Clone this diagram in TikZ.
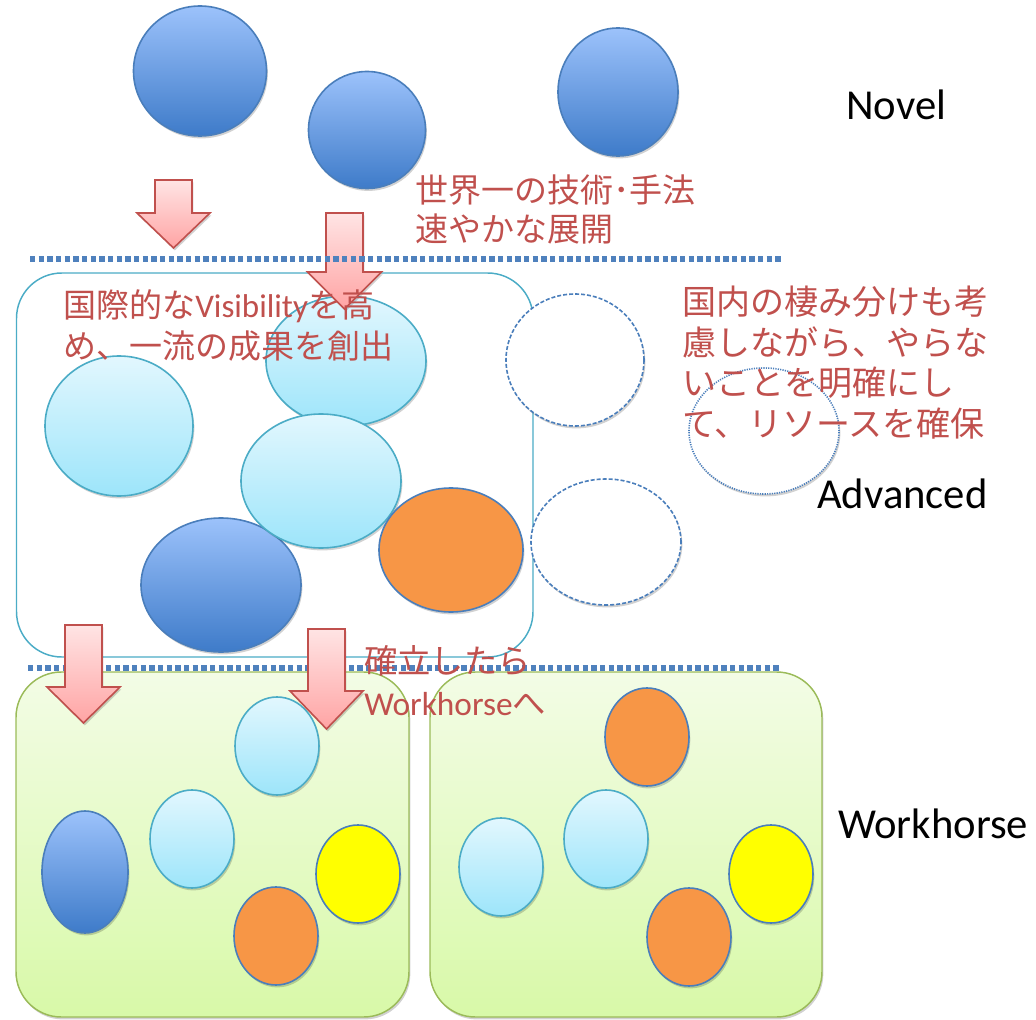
\documentclass[tikz,border=0pt]{standalone}
\usepackage{fontspec}
\setmainfont{Carlito}
\newfontfamily\jp{Noto Sans CJK JP}
\newfontfamily\lat{Carlito}
\usetikzlibrary{shapes.geometric,shadows}
\definecolor{dkTop}{HTML}{9CC2FB}
\definecolor{dkBot}{HTML}{3E7BC9}
\definecolor{ballLine}{HTML}{4A7EBB}
\definecolor{ltTop}{HTML}{E2F7FE}
\definecolor{ltBot}{HTML}{9DE5FA}
\definecolor{ltLine}{HTML}{4BACC6}
\definecolor{orangeF}{HTML}{F79646}
\definecolor{yellowF}{HTML}{FFFF00}
\definecolor{grTop}{HTML}{F3FCE6}
\definecolor{grBot}{HTML}{D8F9A8}
\definecolor{grLine}{HTML}{9BBB59}
\definecolor{arTop}{HTML}{FFE4E4}
\definecolor{arBot}{HTML}{FFA4A4}
\definecolor{arLine}{HTML}{C0504D}
\definecolor{txtRed}{HTML}{C0504D}
\definecolor{sepBlue}{HTML}{4F81BD}
\newcommand\blockarrowdraw[6]{%
  \draw[redarrow] (#1-#2,#4) -- (#1+#2,#4) -- (#1+#2,#5) -- (#1+#3,#5) -- (#1,#6)
    -- (#1-#3,#5) -- (#1-#2,#5) -- cycle;}
\tikzset{
  shad/.style={drop shadow={shadow xshift=1pt,shadow yshift=-1.8pt,opacity=0.18,fill=black}},
  el/.style 2 args={ellipse, inner sep=0pt, minimum width=#1*1.5pt, minimum height=#2*1.5pt, line width=1.2pt},
  darkball/.style={draw=ballLine, top color=dkTop, bottom color=dkBot, shad},
  lightball/.style={draw=ltLine, top color=ltTop, bottom color=ltBot, shad},
  orangeball/.style={draw=ballLine, fill=orangeF, shad},
  yellowball/.style={draw=ballLine, fill=yellowF, shad},
  dashball/.style={draw=ballLine, fill=white, dash pattern=on 3pt off 1.5pt, shad},
  dotball/.style={draw=ballLine, fill=white, dash pattern=on 0.9pt off 0.9pt, shad},
  redarrow/.style={draw=arLine, line width=1.2pt, top color=arTop, bottom color=arBot, shad},
  sepline/.style={draw=sepBlue, line width=3.9pt, dash pattern=on 3.9pt off 2.6pt},
  advbox/.style={draw=ltLine, line width=1.1pt, fill=white, rounded corners=34pt},
  wbox/.style={draw=grLine, line width=1.1pt, top color=grTop, bottom color=grBot, rounded corners=34pt, shad},
  redtxt/.style={text=txtRed, align=left, inner sep=0pt, anchor=west},
  lbl/.style={text=black, inner sep=0pt, anchor=base west, font=\fontsize{32pt}{38pt}\selectfont},
}
\begin{document}
\begin{tikzpicture}[x=0.75pt,y=-0.75pt]
\useasboundingbox (0,0) rectangle (1036,1020);
% Novel level
\node[el={66.5}{65}, darkball] (c1) at (200,71) {};
\node[el={58.5}{58.5}, darkball] (c2) at (367,130) {};
\node[el={60}{64}, darkball] (c3) at (618,92) {};
\blockarrowdraw{173.5}{18.5}{36.5}{180}{213}{248}
% Advanced container
\draw[advbox] (16.5,273) rectangle (533,657);
\node[el={80}{65}, lightball] (e2) at (346,361) {};
\node[el={74}{70}, lightball] (e1) at (119,426) {};
\node[el={80}{67}, darkball] (e4) at (221,585) {};
\node[el={80}{67}, lightball] (e3) at (321,481) {};
\node[el={72}{62}, orangeball] (e5) at (451,550) {};
\node[el={69}{66}, dashball] (d1) at (575,360) {};
\node[el={75}{63}, dashball] (d2) at (606,542) {};
\node[el={75}{63}, dotball] (d3) at (764,431) {};
\blockarrowdraw{344.5}{18.5}{37}{213}{272}{309}
\coordinate (l1a) at (30,259);
\coordinate (l1b) at (782,259);
\draw[sepline] (l1a) -- (l1b);
% Workhorse level
\coordinate (l2a) at (28,668);
\coordinate (l2b) at (779,668);
\draw[sepline] (l2a) -- (l2b);
\draw[wbox] (16,672) rectangle (409,1017);
\draw[wbox] (430,672) rectangle (822,1017);
\node[el={43}{61}, darkball] (w1a) at (85,872) {};
\node[el={42}{49}, lightball] (w1b) at (192,839) {};
\node[el={42}{49}, lightball] (w1c) at (277,746) {};
\node[el={42}{49}, orangeball] (w1d) at (276,936) {};
\node[el={42}{49}, yellowball] (w1e) at (358,874) {};
\node[el={42}{49}, orangeball] (w2a) at (647,737) {};
\node[el={42}{49}, lightball] (w2b) at (501,867) {};
\node[el={42}{49}, lightball] (w2c) at (606,839) {};
\node[el={42}{49}, orangeball] (w2d) at (689,937) {};
\node[el={42}{49}, yellowball] (w2e) at (771,874) {};
\blockarrowdraw{83.5}{18.5}{36.5}{625}{687}{723}
\blockarrowdraw{326.5}{18.5}{36.5}{629}{691}{729}
% texts
\node[redtxt, font=\jp\fontsize{24.75pt}{29.3pt}\selectfont] (t1) at (415,209.5) {世界一の技術･手法\\速やかな展開};
\node[redtxt, font=\jp\fontsize{24.75pt}{30.75pt}\selectfont] (t2) at (63,325.5) {国際的な{\lat Visibility}を高\\め、一流の成果を創出};
\node[redtxt, font=\jp\fontsize{25.5pt}{30.4pt}\selectfont] (t3) at (682,362.5) {国内の棲み分けも考\\慮しながら、やらな\\いことを明確にし\\て、リソースを確保};
\node[redtxt, font=\jp\fontsize{25pt}{31pt}\selectfont] (t4) at (364,680.5) {確立したら\\{\lat Workhorse}へ};
\node[lbl] (novel) at (846,120) {Novel};
\node[lbl] (advanced) at (817,508) {Advanced};
\node[lbl] (workhorse) at (838,838) {Workhorse};
\end{tikzpicture}
\end{document}
